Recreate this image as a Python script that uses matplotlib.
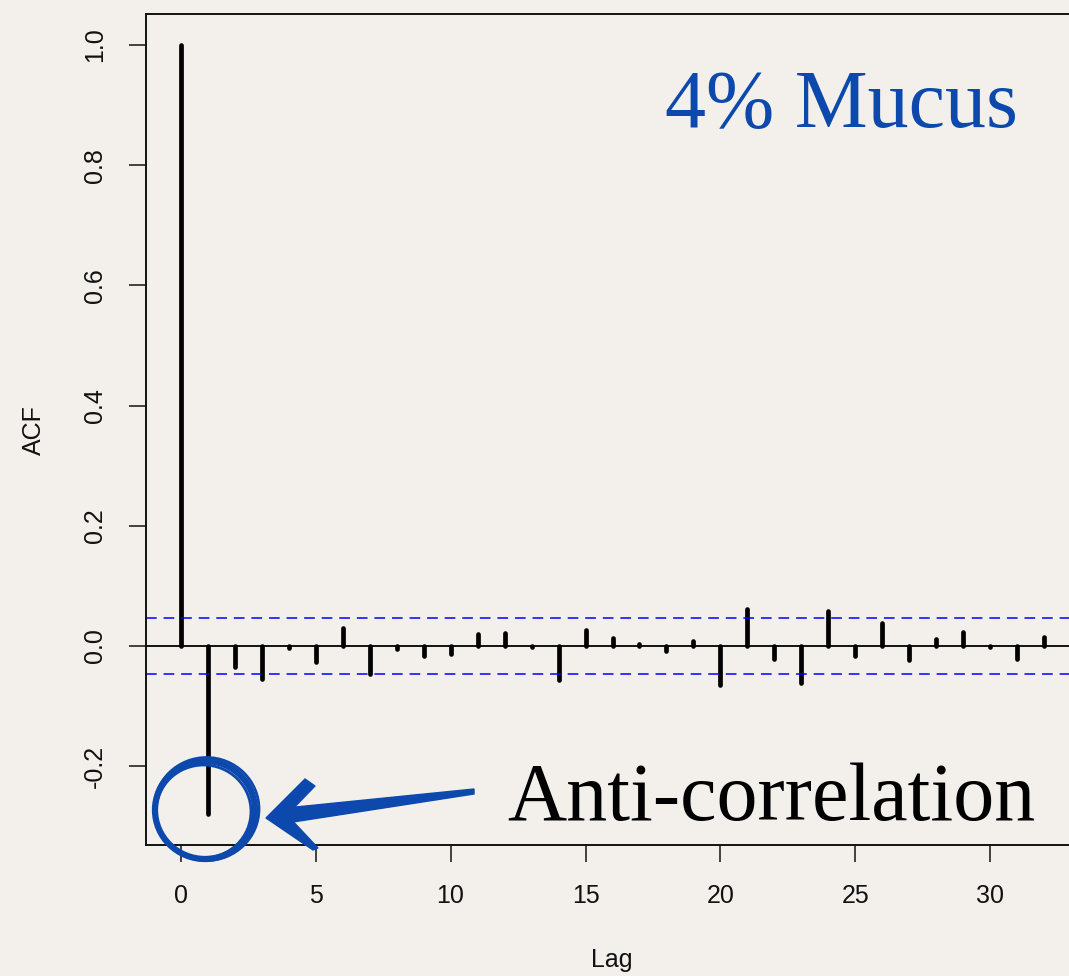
import matplotlib
matplotlib.use("Agg")
import matplotlib.pyplot as plt
import numpy as np
from matplotlib.patches import Ellipse, Polygon
from matplotlib.transforms import IdentityTransform

# ---- data ----
lags = list(range(0, 33))
acf = [1.0, -0.28, -0.035, -0.055, -0.003, -0.027, 0.030, -0.047, -0.005, -0.016,
       -0.013, 0.020, 0.021, -0.002, -0.056, 0.026, 0.014, 0.003, -0.008, 0.009,
       -0.064, 0.061, -0.021, -0.062, 0.058, -0.016, 0.038, -0.024, 0.012, 0.024,
       -0.002, -0.021, 0.015]
ci = 0.046
xticks = [0, 5, 10, 15, 20, 25, 30]
yticks = [-0.2, 0.0, 0.2, 0.4, 0.6, 0.8, 1.0]
ytick_labels = ["-0.2", "0.0", "0.2", "0.4", "0.6", "0.8", "1.0"]
title_text = "4% Mucus"
note_text = "Anti-correlation"

W, H = 1069, 976
bg = "#F3F0EB"
blue = "#0D48AD"

fig = plt.figure(figsize=(W / 100, H / 100), dpi=100, facecolor=bg)
L, R, T, B = 146, 1079, 14, 845
ax = fig.add_axes([L / W, 1 - B / H, (R - L) / W, (B - T) / H])
ax.set_facecolor(bg)

ax.vlines(lags, 0, acf, colors="black", linewidth=3.4, capstyle="round")
ax.axhline(0, color="black", linewidth=1.3)
for s in (ci, -ci):
    ax.axhline(s, color="#0000FF", linewidth=1.1, linestyle=(0, (7, 4.5)))

ax.set_xlim(-1.28, 33.28)
ax.set_ylim(-0.331, 1.0516)
ax.set_xticks(xticks)
ax.set_xticklabels([str(t) for t in xticks], fontfamily="Liberation Sans", fontsize=18, color="#111111")
ax.set_yticks(yticks)
ax.set_yticklabels(ytick_labels, fontfamily="Liberation Sans", fontsize=18, color="#111111",
                   rotation=90, va="center")
ax.tick_params(axis="both", length=12, width=1.1, color="#111111")
ax.tick_params(axis="x", pad=16)
ax.tick_params(axis="y", pad=16)
for sp in ax.spines.values():
    sp.set_linewidth(1.4)
    sp.set_color("#111111")

fig.text(612 / W, 1 - 960 / H, "Lag", ha="center", va="center",
         fontfamily="Liberation Sans", fontsize=18, color="#111111")
fig.text(34 / W, 1 - 430 / H, "ACF", ha="center", va="center", rotation=90,
         fontfamily="Liberation Sans", fontsize=18, color="#111111")

# annotations
fig.text(665 / W, 1 - 127 / H, title_text, ha="left", va="baseline",
         fontfamily="Liberation Serif", fontsize=59, color=blue)
fig.text(507 / W, 1 - 820 / H, note_text, ha="left", va="baseline",
         fontfamily="Liberation Serif", fontsize=59, color="black")

ident = IdentityTransform()
def P(x, y):
    return (x, H - y)

for dx, dy, dr, lw in [(0, 0, 0, 4.5), (1.5, -1, 2.5, 2.0), (-1.5, 1.5, -2.5, 2.0)]:
    cx, cy = P(205 + dx, 810 + dy)
    e = Ellipse((cx, cy), 2 * (50 + dr), 2 * (49 + dr), angle=0, fill=False,
                edgecolor=blue, linewidth=lw, transform=ident)
    fig.add_artist(e)

# arrow shaft (tapered)
shaft = Polygon([P(474, 789), P(474, 794), P(280, 824), P(276, 809)], closed=True,
                facecolor=blue, edgecolor=blue, linewidth=1, transform=ident)
fig.add_artist(shaft)
head_up = Polygon([P(266, 818), P(305, 779), P(315, 786), P(284, 818)], closed=True,
                  facecolor=blue, edgecolor=blue, linewidth=1, transform=ident)
head_dn = Polygon([P(266, 818), P(288, 816), P(318, 848), P(313, 850)], closed=True,
                  facecolor=blue, edgecolor=blue, linewidth=1, transform=ident)
fig.add_artist(head_up)
fig.add_artist(head_dn)

fig.savefig("out.png", dpi=100, facecolor=bg)
